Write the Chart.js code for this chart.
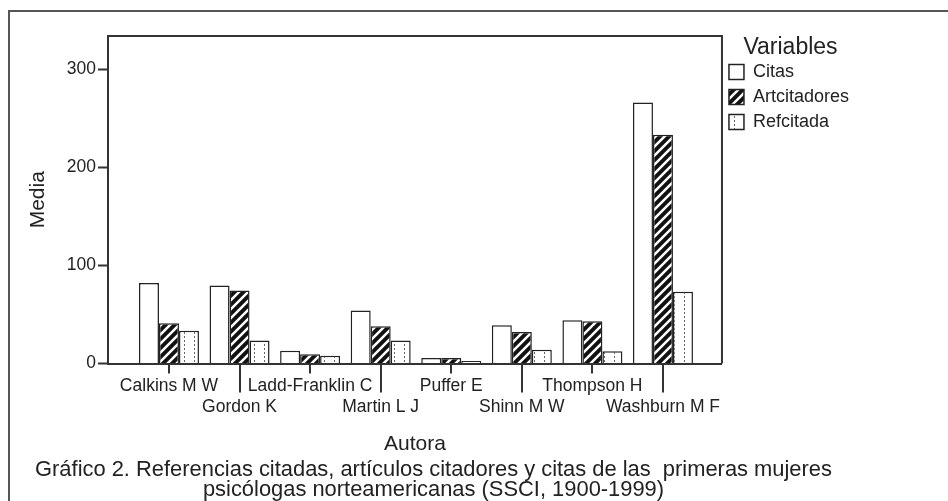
<!DOCTYPE html>
<html>
<head>
<meta charset="utf-8">
<script src="https://cdn.jsdelivr.net/npm/chart.js@4.4.0/dist/chart.umd.min.js"></script>
<style>
  html, body { margin: 0; padding: 0; background: #fff; }
  #marco { position: absolute; left: 8px; top: 10px; width: 1000px; height: 600px; border-left: 2px solid #555; border-top: 2px solid #555; }
  #contenedor { position: absolute; left: 0; top: 0; width: 948px; height: 501px; }
</style>
</head>
<body>
<div id="marco"></div>
<div id="contenedor"><canvas id="chartMedias"></canvas></div>
<script>
// =============================
// Gráfico 2 - medias por autora
// =============================
const autoras = ['Calkins M W', 'Gordon K', 'Ladd-Franklin C', 'Martin L J', 'Puffer E', 'Shinn M W', 'Thompson H', 'Washburn M F'];
const citas = [82, 79.5, 13, 54, 5.5, 39, 44, 266];
const artcitadores = [41, 74.5, 9.5, 38, 5.5, 32, 43, 233];
const refcitada = [33.5, 23.5, 8, 23.5, 2.5, 14, 12.5, 73];
const marcasY = [0, 100, 200, 300];

Chart.defaults.font.family = 'Arial, "Liberation Sans", sans-serif';
Chart.defaults.color = '#222';

// tramas en blanco y negro como en SPSS
function rayado() {
    const c = document.createElement('canvas');
    c.width = 9; c.height = 9;
    const g = c.getContext('2d');
    g.fillStyle = '#111';
    g.fillRect(0, 0, 9, 9);
    g.strokeStyle = '#fff';
    g.lineWidth = 2.5;
    g.beginPath();
    g.moveTo(0, 9); g.lineTo(9, 0);
    g.moveTo(-1, 1); g.lineTo(1, -1);
    g.moveTo(8, 10); g.lineTo(10, 8);
    g.stroke();
    return g.createPattern(c, 'repeat');
}

function punteado() {
    const c = document.createElement('canvas');
    c.width = 10; c.height = 4;
    const g = c.getContext('2d');
    g.fillStyle = '#fff';
    g.fillRect(0, 0, 10, 4);
    g.fillStyle = '#666';
    g.fillRect(4, 0, 1, 2);
    return g.createPattern(c, 'repeat');
}

const pares = (serie) => serie.map((v, i) => ({ x: i, y: v }));

// caja del área de trazado y marcas del eje X (cortas / largas alternadas)
const marcoGrafico = {
    id: 'marcoGrafico',
    afterDraw(chart) {
        const { ctx, chartArea: a, scales: { x } } = chart;
        ctx.save();
        ctx.strokeStyle = '#333';
        ctx.lineWidth = 2;
        ctx.beginPath();
        ctx.moveTo(a.left, a.top);
        ctx.lineTo(a.right, a.top);
        ctx.lineTo(a.right, a.bottom);
        ctx.stroke();
        autoras.forEach((_, i) => {
            const px = Math.round(x.getPixelForValue(i));
            ctx.beginPath();
            ctx.moveTo(px, a.bottom);
            ctx.lineTo(px, a.bottom + (i % 2 ? 29 : 10));
            ctx.stroke();
        });
        ctx.restore();
    }
};

const ctxMedias = document.getElementById('chartMedias');
new Chart(ctxMedias, {
    type: 'bar',
    data: {
        datasets: [{
            label: 'Citas',
            data: pares(citas),
            backgroundColor: '#fff',
            borderColor: '#222',
            borderWidth: 1.5
        }, {
            label: 'Artcitadores',
            data: pares(artcitadores),
            backgroundColor: rayado(),
            borderColor: '#222',
            borderWidth: 1.5
        }, {
            label: 'Refcitada',
            data: pares(refcitada),
            backgroundColor: punteado(),
            borderColor: '#222',
            borderWidth: 1.5
        }]
    },
    options: {
        responsive: true,
        maintainAspectRatio: false,
        animation: false,
        layout: { padding: { left: 8, right: 89, top: 36, bottom: 1 } },
        datasets: {
            bar: { categoryPercentage: 0.85, barPercentage: 1 }
        },
        scales: {
            x: {
                type: 'linear',
                offset: false,
                min: -0.864,
                max: 7.836,
                afterBuildTicks: (s) => { s.ticks = autoras.map((a, i) => ({ value: i })); },
                ticks: {
                    autoSkip: false,
                    maxRotation: 0,
                    padding: 4,
                    font: { size: 17.5 },
                    callback: (v, i) => (i % 2 ? ['', autoras[i]] : autoras[i])
                },
                grid: { display: false },
                border: { color: '#333', width: 2 },
                title: {
                    display: true,
                    text: 'Autora',
                    font: { size: 21 },
                    padding: { top: 10, bottom: 3 }
                }
            },
            y: {
                min: 0,
                max: 333.7,
                afterBuildTicks: (s) => { s.ticks = marcasY.map(v => ({ value: v })); },
                afterFit: (s) => { s.width = 100; },
                ticks: { padding: 2, font: { size: 17.5 } },
                grid: { drawOnChartArea: false, tickLength: 10, tickColor: '#333', tickWidth: 2 },
                border: { color: '#333', width: 2 },
                title: {
                    display: true,
                    text: 'Media',
                    font: { size: 21 },
                    padding: { top: 18, bottom: 0 }
                }
            }
        },
        plugins: {
            legend: {
                position: 'right',
                align: 'start',
                title: { display: true, text: 'Variables', font: { size: 23, lineHeight: 0.87 }, padding: 0 },
                labels: { boxWidth: 15, boxHeight: 15, padding: 7, font: { size: 18 } }
            },
            title: {
                display: true,
                position: 'bottom',
                text: ['Gráfico 2. Referencias citadas, artículos citadores y citas de las  primeras mujeres',
                       'psicólogas norteamericanas (SSCI, 1900-1999)'],
                font: { size: 21.9, weight: 'normal', lineHeight: 0.92 },
                padding: 0
            },
            tooltip: { enabled: false }
        }
    },
    plugins: [marcoGrafico]
});
</script>
</body>
</html>
